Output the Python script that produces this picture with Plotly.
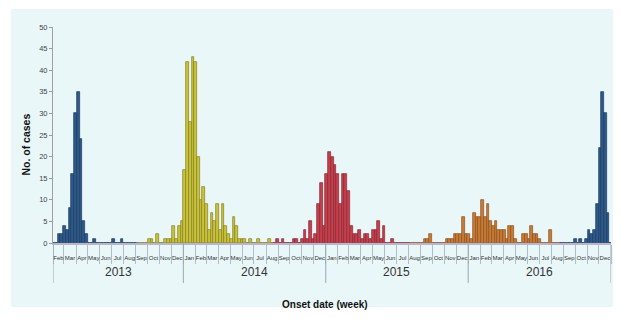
import pandas as pd
import plotly.graph_objects as go

# ---------------- data ----------------
first_week = "2013-01-30"          # start of the first weekly bin
x_start = "2013-02-01"
x_end = "2017-01-01"
years = [2013, 2014, 2015, 2016]

season_names = ["2012/13", "2013/14", "2014/15", "2015/16", "2016/17"]

cases_2012_13 = [0, 0, 2, 2, 4, 3, 8, 16, 30, 35, 24, 5, 2, 0, 0, 1, 0, 0, 0, 0,
                 0, 0, 1, 0, 0, 1, 0, 0, 0, 0, 0]
cases_2013_14 = [0, 0, 0, 0, 1, 1, 0, 2, 0, 0, 1, 1, 1, 4, 1, 4, 5, 17, 42, 28,
                 43, 42, 20, 10, 13, 9, 3, 7, 5, 9, 3, 9, 4, 2, 1, 6, 4, 1, 1, 1,
                 0, 1, 0, 0, 1, 0, 0, 0, 1, 0]
cases_2014_15 = [0, 1, 0, 1, 0, 0, 0, 1, 1, 0, 1, 3, 1, 5, 1, 2, 9, 14, 4, 16,
                 21, 20, 18, 16, 9, 16, 16, 12, 4, 2, 2, 3, 1, 2, 2, 1, 3, 3, 5, 1,
                 4, 0, 0, 1, 0, 0, 0, 0, 0, 0]
cases_2015_16 = [0, 0, 0, 0, 0, 1, 1, 2, 0, 0, 0, 0, 0, 1, 1, 1, 2, 2, 2, 6,
                 2, 2, 1, 7, 6, 6, 10, 6, 9, 5, 4, 5, 3, 3, 3, 1, 4, 4, 1, 0,
                 0, 2, 2, 1, 4, 2, 2, 1, 0, 0, 0, 3, 0, 0, 0]
cases_2016_17 = [0, 0, 0, 0, 0, 1, 0, 1, 0, 1, 3, 2, 3, 9, 22, 35, 30, 7, 0]

season_cases = [cases_2012_13, cases_2013_14, cases_2014_15, cases_2015_16, cases_2016_17]
season_fill = ["#2c5a8a", "#c9c23a", "#c4404d", "#c77a33", "#2c5a8a"]
season_edge = ["#1c3a5e", "#85801f", "#8c2633", "#8c5220", "#1c3a5e"]

# ---------------- figure ----------------
fig = go.Figure()
week_ms = 7 * 24 * 3600 * 1000
offset = 0
t0 = pd.Timestamp(first_week)
for name, vals, fc, ec in zip(season_names, season_cases, season_fill, season_edge):
    xs = [t0 + pd.Timedelta(days=7 * (offset + i) + 3.5) for i in range(len(vals))]
    fig.add_bar(x=xs, y=vals, name=name, width=week_ms,
                marker=dict(color=fc, line=dict(color=ec, width=0.7)))
    offset += len(vals)

narrow = "Liberation Sans Narrow, Arial Narrow, Liberation Sans, Arial"

fig.update_layout(
    width=621, height=319,
    margin=dict(l=45, r=18, t=19, b=84),
    paper_bgcolor="white",
    plot_bgcolor="rgba(0,0,0,0)",
    showlegend=False,
    bargap=0,
    font=dict(family="Liberation Sans, Arial", color="#333333"),
)

fig.update_xaxes(
    type="date", range=[x_start, x_end],
    tick0="2013-01-01", dtick="M1", tickformat="%b",
    ticklabelmode="period", tickangle=0,
    ticks="outside", ticklen=19, tickcolor="#b0bec5", tickwidth=1,
    tickfont=dict(size=6, family=narrow, color="#333333"),
    ticklabelstandoff=-11,
    showline=True, linecolor="#b9b5cc", linewidth=2,
    showgrid=False, zeroline=False,
)
fig.update_yaxes(
    range=[0, 50], dtick=5, tick0=0,
    ticks="outside", ticklen=3, tickcolor="#999999",
    tickfont=dict(size=7.5, color="#444444"),
    showline=True, linecolor="#a0a0a0", linewidth=1,
    showgrid=False, zeroline=False,
)

# background panel
fig.add_shape(type="rect", xref="paper", yref="paper",
              x0=-0.0753, x1=1.0054, y0=-0.296, y1=1.083,
              fillcolor="#e9f7f9", line=dict(width=0), layer="below")

# year dividers
boundaries = [x_start] + [f"{y}-01-01" for y in years[1:]] + [x_end]
for b in boundaries:
    fig.add_shape(type="line", xref="x", yref="paper", x0=b, x1=b, y0=0, y1=-0.185,
                  line=dict(color="#9aa8b0", width=1))

# year labels
for y in years:
    a = max(pd.Timestamp(x_start), pd.Timestamp(f"{y}-01-01"))
    b = min(pd.Timestamp(x_end), pd.Timestamp(f"{y + 1}-01-01"))
    mid = a + (b - a) / 2
    fig.add_annotation(x=mid, xref="x", y=-0.134, yref="paper", text=str(y),
                       showarrow=False, yanchor="middle",
                       font=dict(size=12, family=narrow, color="#333333"))

fig.add_annotation(text="<b>No. of cases</b>", xref="paper", yref="paper",
                   x=-0.050, y=0.456, textangle=-90, showarrow=False,
                   xanchor="center", yanchor="middle",
                   font=dict(size=10.5, color="#111111"))
fig.add_annotation(text="<b>Onset date (week)</b>", xref="paper", yref="paper",
                   x=0.4875, y=-0.287, showarrow=False,
                   xanchor="center", yanchor="middle",
                   font=dict(size=10, color="#111111"))

fig.write_html("out.html")
